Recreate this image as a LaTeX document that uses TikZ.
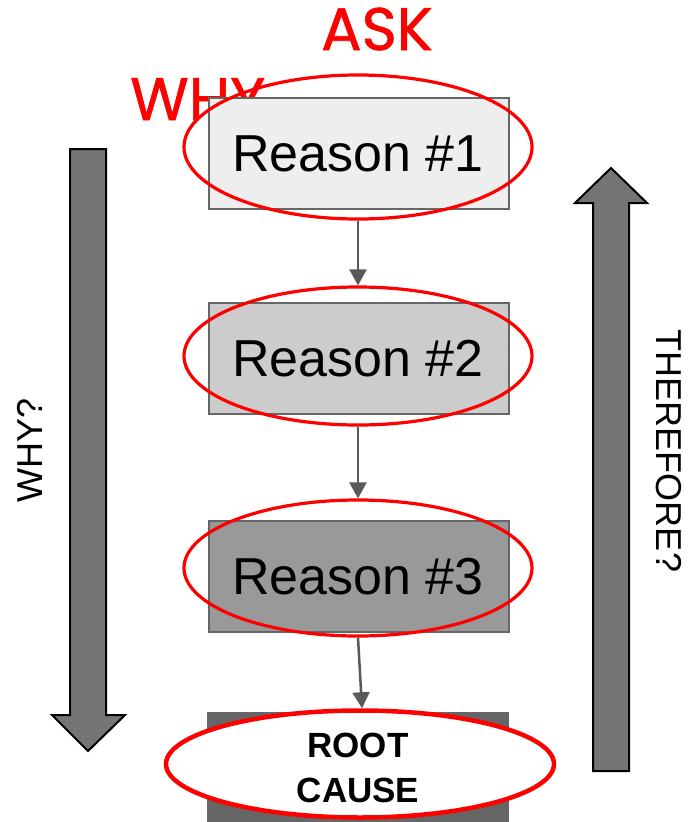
\documentclass[tikz,border=0pt]{standalone}
\usepackage{fontspec}
\setmainfont{Liberation Sans}
\newfontfamily\headfont{Poppins}[FakeBold=1]
\usetikzlibrary{arrows.meta,shapes.geometric}
\definecolor{boxline}{HTML}{666666}
\definecolor{arrowgray}{HTML}{757575}
\definecolor{linkgray}{HTML}{595959}
\definecolor{markred}{HTML}{FF0000}
\tikzset{
  x=1pt, y=-1pt,
  reason/.style={draw=boxline, line width=1.5pt, minimum width=300pt, minimum height=111pt,
    inner sep=0pt, anchor=north west},
  reasontext/.style={font=\fontsize{52}{56}\selectfont, inner sep=0pt},
  ring/.style={draw=markred, line width=3.2pt, ellipse, inner sep=0pt},
  link/.style={draw=linkgray, line width=2.5pt, -{Triangle[length=16pt,width=17pt]}},
  bigarrow/.style={fill=arrowgray, draw=black, line width=2pt, line join=miter},
  sidetext/.style={font=\fontsize{36}{40}\selectfont, inner sep=0pt},
  redtext/.style={text=markred, font=\headfont\fontsize{60}{64}\selectfont, inner sep=0pt}
}
\begin{document}
\begin{tikzpicture}
\useasboundingbox (0,0) rectangle (688,822);

% heading words (WHY sits behind the first box)
\node[redtext, anchor=base west] (ask) at (321,50) {ASK};
\node[redtext, anchor=base west] (why) at (130,120) {WHY};

% reason boxes
\node[reason, fill={rgb,255:red,238;green,238;blue,238}] (r1) at (208,97) {};
\node[reason, fill={rgb,255:red,204;green,204;blue,204}] (r2) at (208,302) {};
\node[reason, fill={rgb,255:red,153;green,153;blue,153}] (r3) at (208,520) {};
\node[reason, fill={rgb,255:red,102;green,102;blue,102}, minimum height=130pt] (r4) at (207,712) {};

\node[reasontext] (t1) at (358,154) {Reason \#1};
\node[reasontext] (t2) at (358,359) {Reason \#2};
\node[reasontext] (t3) at (358,577) {Reason \#3};

% red rings
\node[ring, minimum width=348pt, minimum height=144pt] (e1) at (358,147) {};
\node[ring, minimum width=348pt, minimum height=138pt] (e2) at (358,356) {};
\node[ring, minimum width=348pt, minimum height=136pt] (e3) at (358,568) {};

% links between the rings
\draw[link] (e1.south) -- (e2.north);
\draw[link] (e2.south) -- (e3.north);

\node[ring, fill=white, line width=4.5pt, minimum width=388pt, minimum height=107pt] (e4) at (360,764) {};
\draw[link] (e3.south) -- ([xshift=2pt]e4.north);
\node[align=center, font=\bfseries\fontsize{35}{45}\selectfont, inner sep=0pt] (rc) at (358,768) {ROOT\\CAUSE};

% big side arrows
\draw[bigarrow] (70,149) -- (106,149) -- (106,715) -- (125,715) -- (88,751)
  -- (52,715) -- (70,715) -- cycle;
\draw[bigarrow] (593,771) -- (629,771) -- (629,203) -- (647,203) -- (611,168)
  -- (575,203) -- (593,203) -- cycle;

% side captions
\node[sidetext, rotate=90] (down) at (30,450) {WHY?};
\node[sidetext, rotate=-90] (up) at (669,451) {THEREFORE?};
\end{tikzpicture}
\end{document}
